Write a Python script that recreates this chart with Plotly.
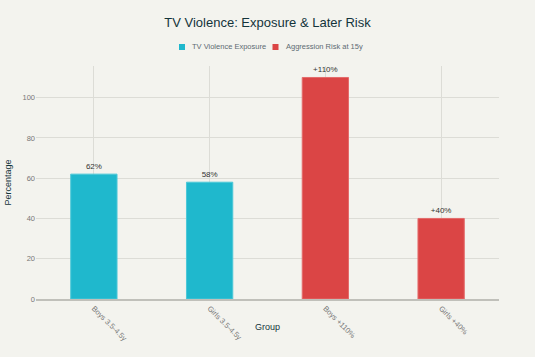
import plotly.graph_objects as go

exp_cats = ["Boys 3.5-4.5y", "Girls 3.5-4.5y"]
exp_vals = [62, 58]
exp_text = ["62%", "58%"]
risk_cats = ["Boys +110%", "Girls +40%"]
risk_vals = [110, 40]
risk_text = ["+110%", "+40%"]
series_names = ["TV Violence Exposure", "Aggression Risk at 15y"]

TEAL = "#1FB8CD"
RED = "#DB4545"

fig = go.Figure()
fig.add_trace(go.Bar(x=exp_cats, y=exp_vals, name=series_names[0],
                     text=exp_text, textposition="outside", width=0.4,
                     marker=dict(color=TEAL, line=dict(color="#4cc8d8", width=1)),
                     cliponaxis=False, textfont=dict(size=8, color="#333")))
fig.add_trace(go.Bar(x=risk_cats, y=risk_vals, name=series_names[1],
                     text=risk_text, textposition="outside", width=0.4,
                     marker=dict(color=RED, line=dict(color="#e46b6b", width=1)),
                     cliponaxis=False, textfont=dict(size=8, color="#333")))

# plot area geometry (pixels) for legend placement
W, H = 535, 357
PL, PR, PT, PB = 36, 499, 66, 299
def px(x):
    return (x - PL) / (PR - PL)
def py(y):
    return (PB - y) / (PB - PT)

legend_y = 47
shapes = []
annotations = []
for name, color, sq_x, txt_x in [(series_names[0], TEAL, 182, 190),
                                 (series_names[1], RED, 275.5, 283.5)]:
    shapes.append(dict(type="rect", xref="paper", yref="paper",
                       x0=px(sq_x - 3), x1=px(sq_x + 3),
                       y0=py(legend_y + 3), y1=py(legend_y - 3),
                       fillcolor=color, line=dict(width=0)))
    annotations.append(dict(text=name, x=px(txt_x), xref="paper", xanchor="left",
                            y=py(legend_y), yref="paper", yanchor="middle",
                            showarrow=False, font=dict(size=7.5, color="#5d6b73")))
annotations.append(dict(text="Group", x=0.5, xref="paper", y=py(327), yref="paper",
                        yanchor="middle", showarrow=False,
                        font=dict(size=9, color="#13343B")))

fig.update_layout(
    width=W, height=H,
    barmode="overlay",
    showlegend=False,
    paper_bgcolor="#F3F3EE", plot_bgcolor="#F3F3EE",
    font=dict(family="Liberation Sans, Arial, sans-serif", size=9, color="#5d6b73"),
    title=dict(text="TV Violence: Exposure & Later Risk", x=0.5, xanchor="center",
               yref="container", y=1 - 22 / H, yanchor="middle",
               font=dict(size=13, color="#13343B")),
    margin=dict(l=PL, r=W - PR, t=PT, b=H - PB, autoexpand=False),
    shapes=shapes,
    annotations=annotations,
)
fig.update_xaxes(tickangle=45, showgrid=True, gridcolor="#dcdcd6", automargin=False,
                 tickfont=dict(size=7.5, color="#777"), showline=True, linecolor="#c0c0ba", linewidth=2)
fig.update_yaxes(title=dict(text="Percentage", font=dict(size=9, color="#13343B"), standoff=9),
                 range=[0, 115.7], dtick=20, showgrid=True, gridcolor="#dcdcd6", automargin=False,
                 tickfont=dict(size=7.5, color="#777"), zeroline=False)

fig.write_html("out.html", config={"displayModeBar": False},
               post_script="document.body.style.margin='0';")
